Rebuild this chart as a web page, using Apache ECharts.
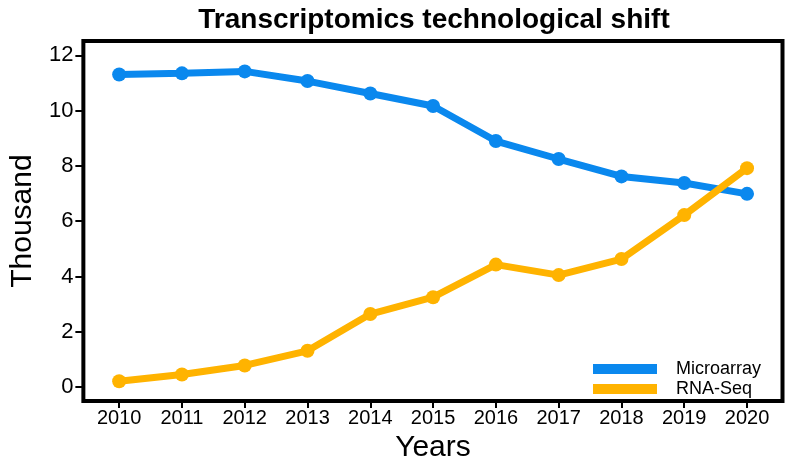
<!DOCTYPE html>
<html>
<head>
<meta charset="utf-8">
<script src="https://cdn.jsdelivr.net/npm/echarts@6/dist/echarts.min.js"></script>
<style>html,body{margin:0;padding:0;background:#fff;}#c{width:793px;height:468px;}</style>
</head>
<body>
<div id="c"></div>
<script>
var years = [2010, 2011, 2012, 2013, 2014, 2015, 2016, 2017, 2018, 2019, 2020];
var microarray = [11.31, 11.35, 11.42, 11.07, 10.62, 10.17, 8.90, 8.25, 7.62, 7.38, 6.99];
var rnaSeq = [0.21, 0.45, 0.78, 1.31, 2.64, 3.25, 4.43, 4.05, 4.63, 6.22, 7.92];
var yTicks = [0, 2, 4, 6, 8, 10, 12];
var seriesNames = ['Microarray', 'RNA-Seq'];

var FONT = '"Liberation Sans", Arial, sans-serif';
function pairs(vals) { return years.map(function (y, i) { return [y, vals[i]]; }); }

var chart = echarts.init(document.getElementById('c'), null, { renderer: 'canvas' });
chart.setOption({
  animation: false,
  backgroundColor: '#ffffff',
  title: {
    text: 'Transcriptomics technological shift',
    left: 429, top: 1, textAlign: 'center',
    textStyle: { fontFamily: FONT, fontWeight: 'bold', fontSize: 28, color: '#000' }
  },
  grid: {
    left: 77, top: 41, right: 10.5, bottom: 62,
    show: true, borderColor: '#000', borderWidth: 4, backgroundColor: 'transparent'
  },
  legend: {
    data: [
      { name: seriesNames[0], icon: 'rect' },
      { name: seriesNames[1], icon: 'rect' }
    ],
    orient: 'vertical',
    left: 588, top: 354,
    itemWidth: 64, itemHeight: 10, itemGap: 0,
    formatter: function (n) { return '{g|}' + n; },
    textStyle: { fontFamily: FONT, fontSize: 18, color: '#000', lineHeight: 20,
      rich: { g: { width: 14 } } }
  },
  xAxis: {
    type: 'value', min: 2009.43, max: 2020.565,
    name: 'Years', nameLocation: 'middle', nameGap: 24,
    nameTextStyle: { fontFamily: FONT, fontSize: 30, color: '#000' },
    axisLine: { show: false, onZero: false },
    splitLine: { show: false },
    axisTick: { show: true, inside: false, length: 7, customValues: years, lineStyle: { color: '#000', width: 2 } },
    axisLabel: { customValues: years, margin: 7, fontFamily: FONT, fontSize: 20, color: '#000',
      formatter: function (v) { return String(v); } }
  },
  yAxis: {
    type: 'value', min: -0.51, max: 12.52,
    name: 'Thousand', nameLocation: 'middle', nameGap: 43,
    nameTextStyle: { fontFamily: FONT, fontSize: 30, color: '#000' },
    axisLine: { show: false, onZero: false },
    splitLine: { show: false },
    axisTick: { show: true, inside: false, length: 8, customValues: yTicks, lineStyle: { color: '#000', width: 2 } },
    axisLabel: { customValues: yTicks, margin: 10, fontFamily: FONT, fontSize: 22, color: '#000',
      formatter: function (v) { return String(v); } }
  },
  series: [
    {
      name: seriesNames[0], type: 'line', data: pairs(microarray),
      symbol: 'circle', symbolSize: 14,
      lineStyle: { color: '#0A88EE', width: 7 },
      itemStyle: { color: '#0A88EE' }
    },
    {
      name: seriesNames[1], type: 'line', data: pairs(rnaSeq),
      symbol: 'circle', symbolSize: 14,
      lineStyle: { color: '#FFB300', width: 7 },
      itemStyle: { color: '#FFB300' }
    }
  ]
});
</script>
</body>
</html>
